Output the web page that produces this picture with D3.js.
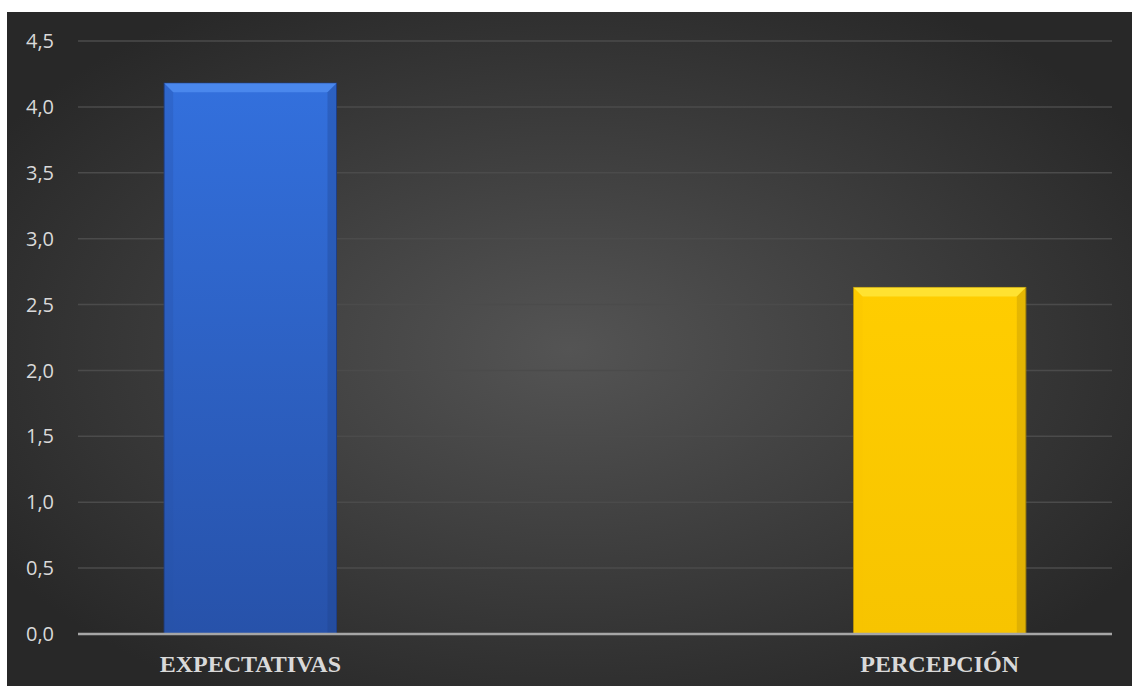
<!DOCTYPE html>
<html><head><meta charset="utf-8">
<script src="https://cdn.jsdelivr.net/npm/d3@7"></script>
<style>html,body{margin:0;padding:0;background:#fff;}svg{display:block;}</style>
</head><body>
<svg id="c" width="1132" height="686"></svg>
<script>
const categories = ["EXPECTATIVAS", "PERCEPCIÓN"];
const series = ["Expectativas", "Percepción"];
const values = [4.18, 2.63];
const tickValues = [0, 0.5, 1.0, 1.5, 2.0, 2.5, 3.0, 3.5, 4.0, 4.5];
const tickLabels = ["0,0","0,5","1,0","1,5","2,0","2,5","3,0","3,5","4,0","4,5"];

(function(){
const svg = d3.select("#c");
const W = 1132, H = 686;
const defs = svg.append("defs");
const bg = defs.append("radialGradient").attr("id","bg").attr("cx","50%").attr("cy","50%").attr("r","60%");
bg.append("stop").attr("offset","0%").attr("stop-color","#545454");
bg.append("stop").attr("offset","100%").attr("stop-color","#282828");

const colors = [
  {main:"#3370dd", top:"#4f8cf0", dark:"#2752aa", edge:"#1f3f85"},
  {main:"#ffcd00", top:"#ffe53a", dark:"#f7c400", edge:"#a8860a"}
];
colors.forEach((c,i)=>{
  const g = defs.append("linearGradient").attr("id","bar"+i).attr("x1",0).attr("y1",0).attr("x2",0).attr("y2",1);
  g.append("stop").attr("offset","0%").attr("stop-color",c.main);
  g.append("stop").attr("offset","100%").attr("stop-color",c.dark);
});

svg.append("rect").attr("x",7).attr("y",12).attr("width",W-7).attr("height",H-12).attr("fill","url(#bg)");

const mLeft = 78, mRight = 1112, mTop = 41, mBottom = 634;
const y = d3.scaleLinear().domain([0,4.5]).range([mBottom, mTop]);
const x0 = d3.scaleBand().domain(categories).range([mLeft,mRight]).paddingInner(0).paddingOuter(0);
const x1 = d3.scaleBand().domain(series).range([0,x0.bandwidth()]).paddingInner(0).paddingOuter(0.5);

svg.append("g").selectAll("line").data(tickValues.filter(v=>v>0)).join("line")
  .attr("x1",mLeft).attr("x2",mRight).attr("y1",d=>y(d)).attr("y2",d=>y(d))
  .attr("stroke","#4b4b4b").attr("stroke-width",1.5);

const yAxis = d3.axisLeft(y).tickValues(tickValues).tickFormat((d,i)=>tickLabels[i]).tickSize(0).tickPadding(0);
const ya = svg.append("g").attr("transform",`translate(54,0)`).call(yAxis);
ya.select(".domain").remove();
ya.selectAll("text").attr("fill","#d9d9d9").attr("font-family","'Open Sans', sans-serif").attr("font-size","20px").attr("dy","0.33em");

const bars = categories.map((c,i)=>({cat:c, ser:series[i], v:values[i], i:i}));
const bg2 = svg.append("g");
bars.forEach(d=>{
  const bx = x0(d.cat) + x1(d.ser), bw = x1.bandwidth();
  const by = y(d.v), bh = y(0) - y(d.v);
  const c = colors[d.i];
  const g = bg2.append("g");
  g.append("rect").attr("x",bx).attr("y",by).attr("width",bw).attr("height",bh).attr("fill","url(#bar"+d.i+")").attr("stroke",c.edge).attr("stroke-width",1);
  const b = 9;
  g.append("path").attr("d",`M${bx},${by}L${bx+bw},${by}L${bx+bw-b},${by+b}L${bx+b},${by+b}Z`).attr("fill",c.top).attr("opacity",0.85);
  g.append("path").attr("d",`M${bx},${by}L${bx+b},${by+b}L${bx+b},${by+bh}L${bx},${by+bh}Z`).attr("fill",c.dark).attr("opacity",0.3);
  g.append("path").attr("d",`M${bx+bw},${by}L${bx+bw-b},${by+b}L${bx+bw-b},${by+bh}L${bx+bw},${by+bh}Z`).attr("fill",c.edge).attr("opacity",0.3);
  svg.append("text").attr("x",bx+bw/2).attr("y",672).attr("text-anchor","middle")
    .attr("fill","#d9d9d9").attr("font-family","'Liberation Serif', 'Times New Roman', serif")
    .attr("font-weight","bold").attr("font-size","24px").text(d.cat);
});

svg.append("line").attr("x1",mLeft).attr("x2",mRight).attr("y1",y(0)).attr("y2",y(0)).attr("stroke","#a6a6a6").attr("stroke-width",2.5);
})();
</script>
</body></html>
